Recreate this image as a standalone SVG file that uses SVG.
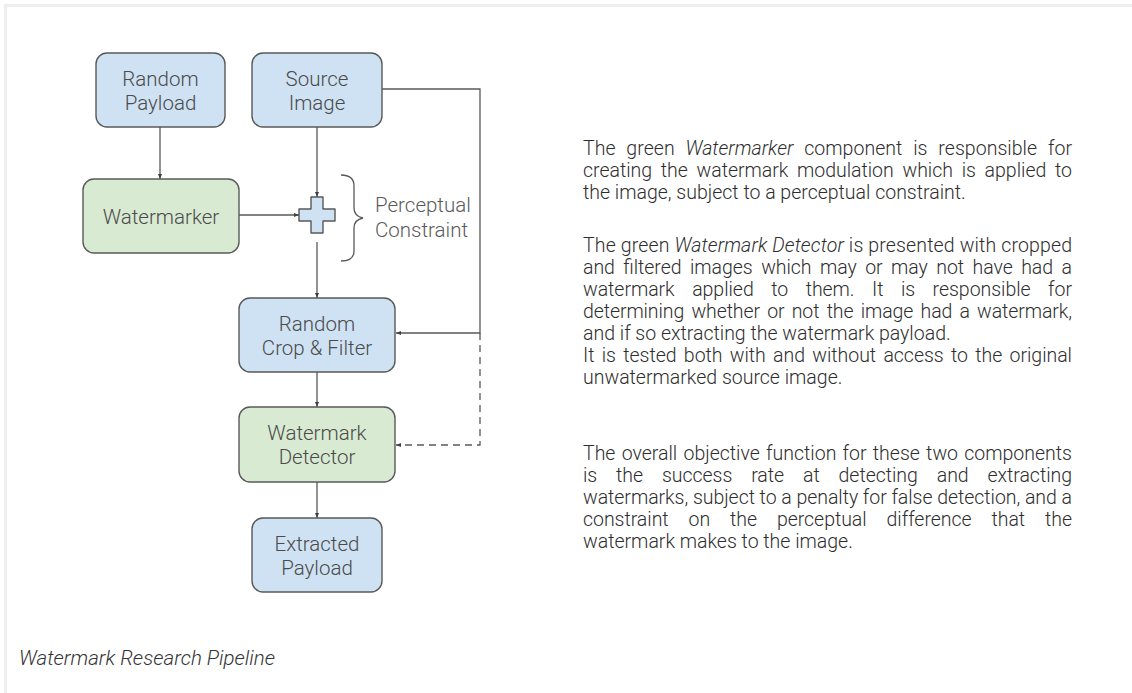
<svg xmlns="http://www.w3.org/2000/svg" width="1132" height="693" viewBox="0 0 1132 693">
  <style>
    .box { stroke: #595959; stroke-width: 1.4; }
    .blue { fill: #cfe2f3; }
    .green { fill: #d9ead3; }
    .label { font-family: Roboto, "Liberation Sans", sans-serif; font-weight: 300; font-size: 20.5px; fill: #4a4a4a; text-anchor: middle; }
    .side { font-family: Roboto, "Liberation Sans", sans-serif; font-weight: 300; font-size: 20.5px; fill: #5a5a5a; }
    .wire { fill: none; stroke: #595959; stroke-width: 1.3; }
    .dash { stroke-dasharray: 7 5; }
    .body { font-family: Roboto, "Liberation Sans", sans-serif; font-weight: 300; font-size: 19.5px; fill: #2e2e2e; }
    .caption { font-family: Roboto, "Liberation Sans", sans-serif; font-weight: 300; font-style: italic; font-size: 20.5px; fill: #333333; }
    .it { font-style: italic; }
  </style>
  <defs>
    <marker id="arrow" viewBox="0 0 5 4" refX="5" refY="2" markerWidth="5" markerHeight="4" markerUnits="userSpaceOnUse" orient="auto">
      <path d="M0,0 L5,2 L0,4 z" fill="#404040"/>
    </marker>
  </defs>

  <rect width="1132" height="693" fill="#ffffff"/>
  <!-- page frame -->
  <path d="M5.5,693 V5.5 H1132" fill="none" stroke="#efefef" stroke-width="3"/>

  <!-- connectors -->
  <g id="connectors">
    <path class="wire" d="M160,127 V179" marker-end="url(#arrow)"/>
    <path class="wire" d="M317,127 V197" marker-end="url(#arrow)"/>
    <path class="wire" d="M239,215 H299" marker-end="url(#arrow)"/>
    <path class="wire" d="M317,242 V298" marker-end="url(#arrow)"/>
    <path class="wire" d="M382,89 H480 V333 H396" marker-end="url(#arrow)"/>
    <path class="wire dash" d="M480,333 V445 H396" marker-end="url(#arrow)"/>
    <path class="wire" d="M317,372 V407" marker-end="url(#arrow)"/>
    <path class="wire" d="M317,482 V518" marker-end="url(#arrow)"/>
  </g>

  <g id="random-payload">
    <rect class="box blue" x="96" y="53" width="129" height="74" rx="11"/>
    <text class="label" x="160.5" y="85.5">Random</text>
    <text class="label" x="160.5" y="109.5">Payload</text>
  </g>

  <g id="source-image">
    <rect class="box blue" x="252" y="53" width="130" height="74" rx="11"/>
    <text class="label" x="317" y="85.5">Source</text>
    <text class="label" x="317" y="109.5">Image</text>
  </g>

  <g id="watermarker">
    <rect class="box green" x="83" y="179" width="156" height="74" rx="11"/>
    <text class="label" x="161" y="223.5">Watermarker</text>
  </g>

  <g id="sum">
    <path class="box blue" stroke-linejoin="round" d="M311,197 H323 V209 H335 V221 H323 V233 H311 V221 H299 V209 H311 Z"/>
  </g>

  <g id="perceptual-constraint">
    <path class="wire" d="M341,175 C349,175 354,178 354,186 L354,208 C354,214 358,217 363,218 C358,219 354,222 354,228 L354,251 C354,258 349,261 341,261"/>
    <text class="side" x="375" y="212">Perceptual</text>
    <text class="side" x="375" y="237">Constraint</text>
  </g>

  <g id="random-crop-filter">
    <rect class="box blue" x="239" y="298" width="156" height="74" rx="11"/>
    <text class="label" x="317" y="330.5">Random</text>
    <text class="label" x="317" y="354.5">Crop &amp; Filter</text>
  </g>

  <g id="watermark-detector">
    <rect class="box green" x="239" y="407" width="156" height="75" rx="11"/>
    <text class="label" x="317" y="440">Watermark</text>
    <text class="label" x="317" y="464">Detector</text>
  </g>

  <g id="extracted-payload">
    <rect class="box blue" x="252" y="518" width="130" height="74" rx="11"/>
    <text class="label" x="317" y="550.5">Extracted</text>
    <text class="label" x="317" y="574.5">Payload</text>
  </g>

  <!-- explanatory text, justified to 583..1072 -->
  <g id="description" class="body">
    <text x="583" y="155" word-spacing="6" textLength="489" lengthAdjust="spacing">The green <tspan class="it">Watermarker</tspan> component is responsible for</text>
    <text x="583" y="177" word-spacing="4" textLength="489" lengthAdjust="spacing">creating the watermark modulation which is applied to</text>
    <text x="583" y="199">the image, subject to a perceptual constraint.</text>

    <text x="583" y="252" textLength="489" lengthAdjust="spacing">The green <tspan class="it">Watermark Detector</tspan> is presented with cropped</text>
    <text x="583" y="274" word-spacing="3.8" textLength="489" lengthAdjust="spacing">and filtered images which may or may not have had a</text>
    <text x="583" y="296" word-spacing="12.8" textLength="489" lengthAdjust="spacing">watermark applied to them. It is responsible for</text>
    <text x="583" y="318" word-spacing="2.6" textLength="489" lengthAdjust="spacing">determining whether or not the image had a watermark,</text>
    <text x="583" y="340">and if so extracting the watermark payload.</text>
    <text x="583" y="362" word-spacing="2.6" textLength="489" lengthAdjust="spacing">It is tested both with and without access to the original</text>
    <text x="583" y="384">unwatermarked source image.</text>

    <text x="583" y="460" word-spacing="1.5" textLength="489" lengthAdjust="spacing">The overall objective function for these two components</text>
    <text x="583" y="482" word-spacing="14.2" textLength="489" lengthAdjust="spacing">is the success rate at detecting and extracting</text>
    <text x="583" y="504" textLength="489" lengthAdjust="spacing">watermarks, subject to a penalty for false detection, and a</text>
    <text x="583" y="526" word-spacing="15.2" textLength="489" lengthAdjust="spacing">constraint on the perceptual difference that the</text>
    <text x="583" y="548">watermark makes to the image.</text>
  </g>

  <text class="caption" x="19" y="665">Watermark Research Pipeline</text>
</svg>
